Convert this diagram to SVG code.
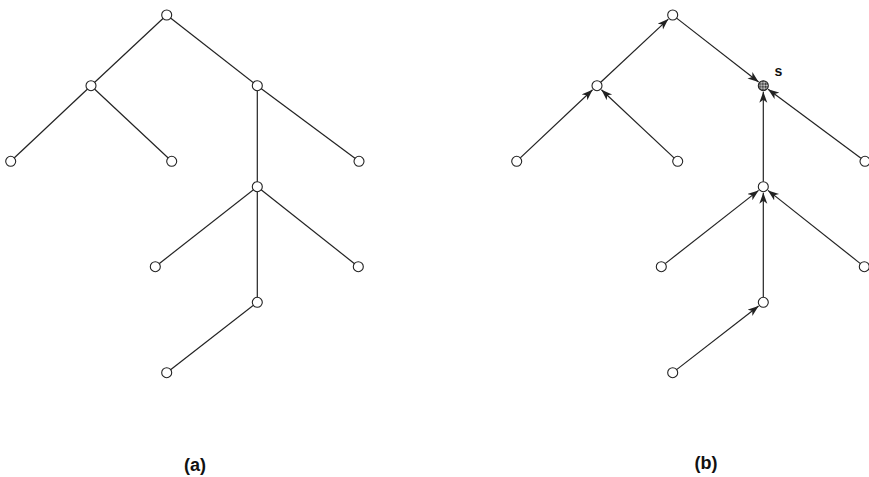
<svg xmlns="http://www.w3.org/2000/svg" width="869" height="477" viewBox="0 0 869 477">
<style>
.e{stroke:#222;stroke-width:1.2;fill:none}
.ea{stroke:#222;stroke-width:1.2;fill:none;marker-end:url(#ah)}
.n{fill:#fff;stroke:#222;stroke-width:1.1}
.lbl{font-family:"Liberation Sans",Arial,sans-serif;font-weight:bold;fill:#111}
</style>
<defs>
<marker id="ah" markerUnits="userSpaceOnUse" markerWidth="12" markerHeight="9" refX="11" refY="4" orient="auto">
<path d="M0,0 L11,4 L0,8 L3,4 z" fill="#222"/>
</marker>
<pattern id="hatch" patternUnits="userSpaceOnUse" width="2.2" height="2.2" patternTransform="rotate(45)">
<rect width="2.2" height="2.2" fill="#ddd"/>
<rect width="1.1" height="1.1" fill="#222"/>
<rect x="1.1" y="1.1" width="1.1" height="1.1" fill="#222"/>
</pattern>
</defs>
<rect width="869" height="477" fill="#fff"/>
<g id="connectors">
<g id="edges-a">
<line class="e" x1="166.7" y1="15" x2="91" y2="85.7"/>
<line class="e" x1="166.7" y1="15" x2="257.3" y2="85.7"/>
<line class="e" x1="91" y1="85.7" x2="10.7" y2="161.3"/>
<line class="e" x1="91" y1="85.7" x2="171.7" y2="161.3"/>
<line class="e" x1="257.3" y1="85.7" x2="359" y2="161.3"/>
<line class="e" x1="257.3" y1="85.7" x2="257.3" y2="186.7"/>
<line class="e" x1="257.3" y1="186.7" x2="155.3" y2="266.7"/>
<line class="e" x1="257.3" y1="186.7" x2="358.3" y2="266.7"/>
<line class="e" x1="257.3" y1="186.7" x2="257.3" y2="302.3"/>
<line class="e" x1="257.3" y1="302.3" x2="166.7" y2="372.7"/>
</g>
<g id="edges-b">
<line class="ea" x1="600.7" y1="82.3" x2="668.3" y2="19.1"/>
<line class="ea" x1="676.6" y1="18.1" x2="758.6" y2="82.0"/>
<line class="ea" x1="520.3" y1="157.9" x2="592.6" y2="89.8"/>
<line class="ea" x1="674.0" y1="157.9" x2="601.4" y2="89.8"/>
<line class="ea" x1="861.0" y1="158.3" x2="768.1" y2="89.3"/>
<line class="ea" x1="763.3" y1="181.7" x2="763.3" y2="91.7"/>
<line class="ea" x1="665.2" y1="263.6" x2="758.6" y2="190.4"/>
<line class="ea" x1="860.4" y1="263.6" x2="768.0" y2="190.4"/>
<line class="ea" x1="763.3" y1="297.3" x2="763.3" y2="192.7"/>
<line class="ea" x1="676.6" y1="369.6" x2="758.6" y2="306.0"/>
</g>
</g>
<g id="tree-a">
<g id="a-root"><circle class="n" cx="166.7" cy="15" r="5"/></g>
<g id="a-n1"><circle class="n" cx="91" cy="85.7" r="5"/></g>
<g id="a-n2"><circle class="n" cx="257.3" cy="85.7" r="5"/></g>
<g id="a-l1"><circle class="n" cx="10.7" cy="161.3" r="5"/></g>
<g id="a-l2"><circle class="n" cx="171.7" cy="161.3" r="5"/></g>
<g id="a-l3"><circle class="n" cx="359" cy="161.3" r="5"/></g>
<g id="a-n3"><circle class="n" cx="257.3" cy="186.7" r="5"/></g>
<g id="a-l4"><circle class="n" cx="155.3" cy="266.7" r="5"/></g>
<g id="a-l5"><circle class="n" cx="358.3" cy="266.7" r="5"/></g>
<g id="a-n4"><circle class="n" cx="257.3" cy="302.3" r="5"/></g>
<g id="a-l6"><circle class="n" cx="166.7" cy="372.7" r="5"/></g>
</g>
<g id="tree-b">
<g id="b-root"><circle class="n" cx="672.7" cy="15" r="5"/></g>
<g id="b-n1"><circle class="n" cx="597" cy="85.7" r="5"/></g>
<g id="b-s"><circle cx="763.3" cy="85.7" r="5" fill="url(#hatch)" stroke="#222" stroke-width="1.1"/><text class="lbl" x="778.5" y="76" font-size="14" text-anchor="middle">s</text></g>
<g id="b-l1"><circle class="n" cx="516.7" cy="161.3" r="5"/></g>
<g id="b-l2"><circle class="n" cx="677.7" cy="161.3" r="5"/></g>
<g id="b-l3"><circle class="n" cx="865" cy="161.3" r="5"/></g>
<g id="b-n3"><circle class="n" cx="763.3" cy="186.7" r="5"/></g>
<g id="b-l4"><circle class="n" cx="661.3" cy="266.7" r="5"/></g>
<g id="b-l5"><circle class="n" cx="864.3" cy="266.7" r="5"/></g>
<g id="b-n4"><circle class="n" cx="763.3" cy="302.3" r="5"/></g>
<g id="b-l6"><circle class="n" cx="672.7" cy="372.7" r="5"/></g>
</g>
<text class="lbl" x="195" y="471" font-size="18" text-anchor="middle">(a)</text>
<text class="lbl" x="706" y="469" font-size="18" text-anchor="middle">(b)</text>
</svg>
